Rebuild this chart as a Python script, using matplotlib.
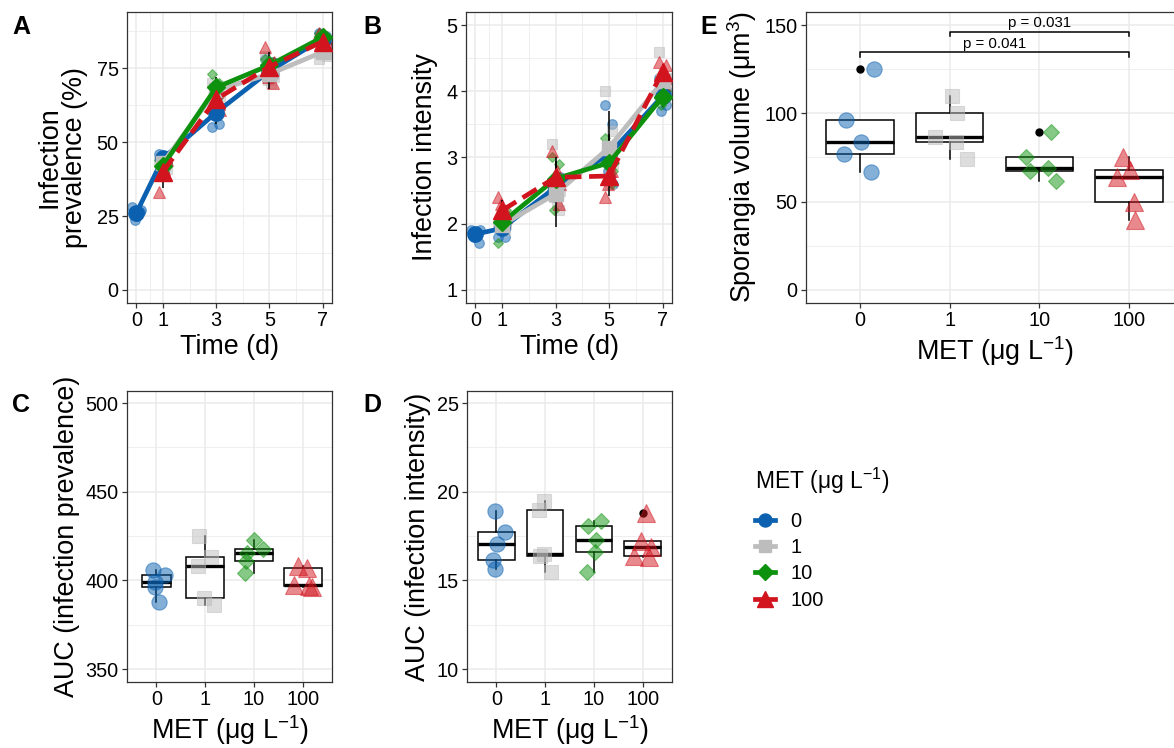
import numpy as np
import matplotlib
matplotlib.use("Agg")
import matplotlib.pyplot as plt
from matplotlib.lines import Line2D

plt.rcParams['font.family'] = ['Liberation Sans', 'DejaVu Sans']
plt.rcParams['mathtext.fontset'] = 'custom'
plt.rcParams['mathtext.rm'] = 'Liberation Sans'
plt.rcParams['mathtext.it'] = 'Liberation Sans:italic'
plt.rcParams['mathtext.bf'] = 'Liberation Sans:bold'

W, H = 1174, 748
nan = np.nan

# ---- data ----
groups = ["0", "1", "10", "100"]
colors = ["#0B61B0", "#BDBDBD", "#0E920E", "#D2141E"]
markers = ["o", "s", "D", "^"]
times = [0, 1, 3, 5, 7]

# infection prevalence (%), mean and SE per group per time
prev_mean = [[26, 44.5, 60, 74, 85],
             [nan, 43, 67.5, 73, 80.5],
             [nan, 42, 68.5, 76, 85.5],
             [nan, 40, 64.5, 75.5, 84]]
prev_se = [[2.5, 2, 4, 3, 2],
           [nan, 2, 4.5, 5, 2.5],
           [nan, 2, 2.5, 2.5, 1.5],
           [nan, 5.5, 2.5, 5, 2]]
prev_pts = [[[28, 26.5, 23.5, 27, 25], [46, 45, 44, 43, 40], [55, 56, 59, 62, 65], [78, 77, 75, 73, 72], [87, 86, 84, 83, 85]],
            [None, [44, 43, 45, 41, 42], [70, 68, 66, 64, 69], [79, 73, 71, 72, 70], [78, 80, 82, 79, 83]],
            [None, [44, 42, 41, 43, 40], [73, 70, 68, 66, 65], [78, 77, 75, 76, 74], [87, 86, 85, 84, 85]],
            [None, [33, 39, 43, 44, 41], [66, 63, 65, 61, 67], [82, 70, 72, 77, 76], [87, 85, 83, 84, 81]]]

# infection intensity
int_mean = [[1.84, 1.93, 2.55, 3.05, 3.93],
            [nan, 1.98, 2.45, 3.15, 4.15],
            [nan, 2.02, 2.68, 2.92, 3.92],
            [nan, 2.2, 2.7, 2.72, 4.3]]
int_se = [[0.1, 0.08, 0.2, 0.3, 0.15],
          [nan, 0.08, 0.5, 0.55, 0.15],
          [nan, 0.1, 0.2, 0.15, 0.15],
          [nan, 0.15, 0.3, 0.3, 0.12]]
int_pts = [[[1.9, 1.7, 1.8, 1.9, 1.85], [1.8, 1.8, 1.95, 2.0, 2.1], [2.5, 2.6, 2.4, 2.7, 2.55], [3.8, 3.5, 2.8, 2.6, 2.7], [4.2, 3.8, 3.7, 4.0, 3.9]],
           [None, [2.0, 1.9, 2.1, 2.0, 1.95], [3.2, 2.2, 2.4, 2.5, 2.3], [4.0, 3.4, 3.0, 2.9, 2.6], [4.6, 4.2, 4.0, 4.1, 3.9]],
           [None, [1.7, 2.0, 2.1, 2.2, 2.0], [3.0, 2.9, 2.2, 2.6, 2.7], [3.3, 2.6, 2.9, 2.8, 3.0], [3.9, 4.0, 3.8, 3.9, 4.0]],
           [None, [2.4, 2.2, 2.3, 2.1, 2.0], [3.1, 2.3, 2.7, 2.6, 2.8], [2.4, 2.8, 2.6, 3.0, 2.8], [4.45, 4.4, 4.3, 4.2, 4.1]]]
time_jit = [-0.15, 0.12, -0.05, 0.16, 0.04]

# AUC prevalence
auc_prev = [[406, 403, 399, 396, 388],
            [425, 413, 408, 390, 386],
            [423, 417.5, 415.5, 411, 404],
            [408, 407, 397.5, 397, 396.5]]
auc_prev_jit = [[-0.07, 0.18, -0.03, -0.02, 0.05],
                [-0.12, 0.13, -0.15, -0.02, 0.18],
                [0.0, 0.18, -0.15, -0.17, -0.19],
                [-0.1, 0.08, -0.18, 0.12, 0.2]]

# AUC intensity
auc_int = [[18.94, 17.74, 17.08, 16.13, 15.66],
           [19.5, 18.95, 16.5, 16.35, 15.5],
           [18.06, 18.34, 17.3, 16.58, 15.5],
           [18.8, 17.2, 16.9, 16.35, 16.3]]
auc_int_jit = [[-0.02, 0.17, 0.02, -0.07, -0.02],
               [-0.03, -0.13, -0.03, -0.1, 0.13],
               [-0.13, 0.15, 0.04, 0.02, -0.15],
               [0.07, -0.03, 0.17, -0.17, 0.13]]

# sporangia volume
spor = [[125, 96, 84, 77, 67],
        [110, 100, 86.8, 84, 74],
        [89.6, 75.1, 68.9, 67.5, 61.9],
        [75.5, 67.9, 63.8, 50, 39.6]]
spor_jit = [[0.16, -0.15, 0.01, -0.18, 0.12],
            [0.03, 0.08, -0.16, 0.07, 0.19],
            [0.13, -0.15, 0.1, -0.11, 0.19],
            [-0.07, 0.01, -0.13, 0.05, 0.07]]
pvals = [(1, 3, 146.3, "p = 0.031"), (0, 3, 134.6, "p = 0.041")]

fig = plt.figure(figsize=(W / 100, H / 100), dpi=100)
fig.patch.set_facecolor("white")


def make_ax(x0, y0, x1, y1):
    return fig.add_axes([x0 / W, 1 - y1 / H, (x1 - x0) / W, (y1 - y0) / H])


def style(ax, ymaj, ymin, xmin_ticks=None):
    ax.set_yticks(ymaj)
    ax.set_yticks(ymin, minor=True)
    if xmin_ticks is not None:
        ax.set_xticks(xmin_ticks, minor=True)
    ax.grid(which="major", color="#EBEBEB", lw=1.1, zorder=0)
    ax.grid(which="minor", color="#EBEBEB", lw=0.55, zorder=0)
    ax.set_axisbelow(True)
    for s in ax.spines.values():
        s.set_color("#333333")
        s.set_linewidth(0.9)
    ax.tick_params(which="major", length=3.5, width=0.9, color="#333333",
                   labelsize=14.3, labelcolor="black", pad=2.5)
    ax.tick_params(which="minor", length=0)


msize_mean = [11, 10.5, 9, 13.5]
msize_pt = [7, 6.5, 5.5, 8]


def time_panel(ax, means, ses, pts):
    for g in range(4):
        for ti, t in enumerate(times):
            if pts[g][ti] is None:
                continue
            for k, v in enumerate(pts[g][ti]):
                ax.plot(t + time_jit[k], v, marker=markers[g], ms=msize_pt[g],
                        color=colors[g], alpha=0.5, mec=colors[g], mew=0.8,
                        ls="none", zorder=2)
    for g in range(4):
        m = np.array(means[g], dtype=float)
        s = np.array(ses[g], dtype=float)
        ok = ~np.isnan(m)
        t = np.array(times)[ok]
        ax.vlines(t, m[ok] - s[ok], m[ok] + s[ok], color="black", lw=1.1, zorder=3)
        ls = (0, (3.5, 1.6)) if g == 3 else "-"
        ax.plot(t, m[ok], color=colors[g], lw=3.4, ls=ls, zorder=4 + g,
                solid_capstyle="butt", dash_capstyle="butt")
        ax.plot(t, m[ok], ls="none", marker=markers[g], ms=msize_mean[g],
                color=colors[g], mec=colors[g], zorder=4 + g)
    ax.set_xlim(-0.35, 7.35)
    ax.set_xticks(times)
    ax.set_xlabel("Time (d)", fontsize=19.4, labelpad=3)


msize_box = [11, 10.5, 8.5, 12.5]


def box_panel(ax, data, jit, widths):
    pos = np.arange(4)
    ax.boxplot(data, positions=pos, widths=widths, whis=1.5, patch_artist=True,
               boxprops=dict(facecolor="white", edgecolor="black", lw=1.1),
               whiskerprops=dict(color="black", lw=1.1),
               capprops=dict(lw=0),
               medianprops=dict(color="black", lw=2.4),
               flierprops=dict(marker="o", markerfacecolor="black", markeredgecolor="black", ms=5),
               zorder=2)
    for g in range(4):
        for v, j in zip(data[g], jit[g]):
            ax.plot(g + j, v, marker=markers[g], ms=msize_box[g], color=colors[g],
                    alpha=0.5, mec=colors[g], mew=0.8, ls="none", zorder=3)
    ax.set_xlim(-0.6, 3.6)
    ax.set_xticks(pos)
    ax.set_xticklabels(groups)
    ax.set_xlabel("MET (μg L$^{-1}$)", fontsize=19.4, labelpad=3)


# A
axA = make_ax(127, 12, 332, 303)
style(axA, [0, 25, 50, 75], [12.5, 37.5, 62.5, 87.5], [0.5, 2, 4, 6])
time_panel(axA, prev_mean, prev_se, prev_pts)
axA.set_ylim(-4.4, 94)
axA.set_ylabel("Infection\nprevalence (%)", fontsize=19.4, labelpad=6, linespacing=1.0)

# B
axB = make_ax(466, 12, 672, 303)
style(axB, [1, 2, 3, 4, 5], [1.5, 2.5, 3.5, 4.5], [0.5, 2, 4, 6])
time_panel(axB, int_mean, int_se, int_pts)
axB.set_ylim(0.8, 5.2)
axB.set_ylabel("Infection intensity", fontsize=19.4, labelpad=6)

# E
axE = make_ax(806, 12, 1183, 303)
style(axE, [0, 50, 100, 150], [25, 75, 125])
box_panel(axE, spor, spor_jit, 0.75)
axE.set_ylim(-7.4, 157.4)
axE.set_ylabel("Sporangia volume (μm$^{3}$)", fontsize=19.4, labelpad=4)
for a, b, y, lab in pvals:
    axE.plot([a, a, b, b], [y - 2.5, y, y, y - 2.5], color="black", lw=1.1, zorder=5)
    axE.text((a + b) / 2, y + 0.8, lab, ha="center", va="bottom", fontsize=10.8)

# C
axC = make_ax(127, 391, 332, 682)
style(axC, [350, 400, 450, 500], [375, 425, 475])
box_panel(axC, auc_prev, auc_prev_jit, [0.6, 0.77, 0.77, 0.77])
axC.set_ylim(342.7, 506.8)
axC.set_ylabel("AUC (infection prevalence)", fontsize=19.4, labelpad=4)

# D
axD = make_ax(467, 391, 672, 682)
style(axD, [10, 15, 20, 25], [12.5, 17.5, 22.5])
box_panel(axD, auc_int, auc_int_jit, 0.75)
axD.set_ylim(9.27, 25.68)
axD.set_ylabel("AUC (infection intensity)", fontsize=19.4, labelpad=4)

# panel letters
for lab, x, y in [("A", 12, 15), ("B", 363, 15), ("E", 700, 15), ("C", 12, 393), ("D", 363, 393)]:
    fig.text(x / W, 1 - y / H, lab, fontsize=18, fontweight="bold", ha="left", va="top")

# legend
fig.text(755 / W, 1 - 481 / H, "MET (μg L$^{-1}$)", fontsize=16.5, ha="left", va="center")
handles = [Line2D([], [], color=colors[g], marker=markers[g], ms=msize_mean[g] * 0.85, lw=3.4)
           for g in range(4)]
leg = fig.legend(handles, groups, loc="upper left",
                 bbox_to_anchor=(747 / W, 1 - 504 / H), frameon=False,
                 fontsize=14.4, handlelength=1.0,
                 labelspacing=0.36, handletextpad=0.75, borderaxespad=0)

fig.savefig("out.png", dpi=100)
